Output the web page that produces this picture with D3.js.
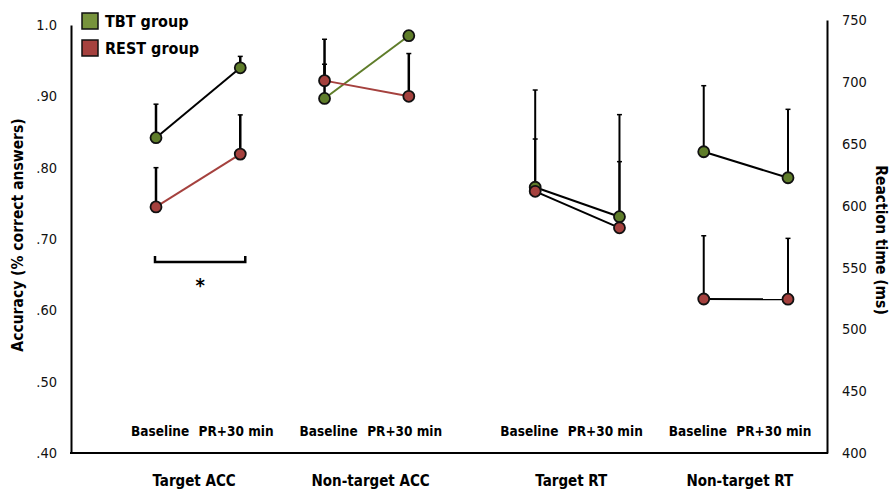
<!DOCTYPE html>
<html>
<head>
<meta charset="utf-8">
<script src="https://cdn.jsdelivr.net/npm/d3@7"></script>
<style>
  body { margin: 0; background: #fff; }
  svg { font-family: "DejaVu Sans Condensed", "DejaVu Sans", sans-serif; }
</style>
</head>
<body>
<div id="chart"></div>
<script>
// chart values
var conditions = ["Target ACC", "Non-target ACC", "Target RT", "Non-target RT"];
var timepoints = ["Baseline", "PR+30 min"];
var groups = ["TBT group", "REST group"];
// one value per condition x timepoint (8 entries)
var tbtMean = [0.842, 0.940, 0.897, 0.985, 614.8, 591.0, 643.5, 622.5];
var tbtErr  = [0.047, 0.016, 0.048, 0.004, 39.0, 44.5, 53.4, 55.3];
var restMean = [0.745, 0.819, 0.922, 0.900, 611.5, 582.0, 524.5, 524.3];
var restErr  = [0.055, 0.055, 0.058, 0.060, 81.9, 91.5, 51.1, 49.2];
var accTicks = [0.4, 0.5, 0.6, 0.7, 0.8, 0.9, 1.0];
var rtTicks = [400, 450, 500, 550, 600, 650, 700, 750];

var w = 894, h = 491;
var green = "#5f7d2a", greenLegend = "#77933c", red = "#a5413e";

var svg = d3.select("#chart").append("svg")
    .attr("width", w)
    .attr("height", h);

var yAcc = d3.scaleLinear().domain([0.4, 1.0]).range([453, 25]);
var yRt = d3.scaleLinear().domain([400, 750]).range([453, 20]);

// slot positions: wider gap between the ACC and RT panels
var slots = [0, 1, 2, 3, 4.5, 5.5, 6.5, 7.5];
var x = d3.scaleLinear().domain([0, 7.5]).range([156, 788]);

//left axis
svg.append("g")
    .attr("transform", "translate(71,0)")
    .call(d3.axisLeft(yAcc).tickValues(accTicks).tickSize(0).tickSizeOuter(0).tickPadding(14)
        .tickFormat(function (d) { return d === 1 ? "1.0" : d3.format(".2f")(d).replace(/^0/, ""); }))
    .call(function (g) {
        g.select(".domain").attr("stroke", "#000").attr("stroke-width", 2);
        g.selectAll("text").attr("font-size", 14.5).attr("fill", "#111")
            .attr("font-family", "DejaVu Sans Condensed");
    });

//right axis
svg.append("g")
    .attr("transform", "translate(827,0)")
    .call(d3.axisRight(yRt).tickValues(rtTicks).tickSize(0).tickSizeOuter(0).tickPadding(15))
    .call(function (g) {
        g.select(".domain").attr("stroke", "#000").attr("stroke-width", 2);
        g.selectAll("text").attr("font-size", 14.5).attr("fill", "#111")
            .attr("font-family", "DejaVu Sans Condensed");
    });

//bottom line
svg.append("line")
    .attr("x1", 70).attr("x2", 828)
    .attr("y1", 453).attr("y2", 453)
    .attr("stroke", "#000").attr("stroke-width", 2);

//axis titles
svg.append("text")
    .attr("transform", "translate(23,235) rotate(-90)")
    .attr("text-anchor", "middle")
    .attr("font-size", 15.5).attr("font-weight", "bold")
    .text("Accuracy (% correct answers)");

svg.append("text")
    .attr("transform", "translate(876,240) rotate(90)")
    .attr("text-anchor", "middle")
    .attr("font-size", 15.5).attr("font-weight", "bold")
    .text("Reaction time (ms)");

//timepoint and condition labels (centred a bit left of the points in the RT panels)
var pts = d3.range(8);
function pairMid(c) {
    return (x(slots[2 * c]) + x(slots[2 * c + 1])) / 2 + (c >= 2 ? -10 : 0);
}
svg.append("g").selectAll("text")
    .data(pts)
    .enter().append("text")
    .attr("x", function (i) { return pairMid(Math.floor(i / 2)) + (i % 2 ? 38 : -38); })
    .attr("y", 436)
    .attr("text-anchor", "middle")
    .attr("font-size", 13.5).attr("font-weight", "bold")
    .text(function (i) { return timepoints[i % 2]; });

svg.append("g").selectAll("text")
    .data(conditions)
    .enter().append("text")
    .attr("x", function (d, c) { return pairMid(c) + (c === 0 ? -4 : 4); })
    .attr("y", 486)
    .attr("text-anchor", "middle")
    .attr("font-size", 15).attr("font-weight", "bold")
    .text(function (d) { return d; });

//series built from arrays
function yFor(i) { return i < 4 ? yAcc : yRt; }
var series = [
    { name: groups[0], mean: tbtMean, err: tbtErr, fill: green,
      lineColor: ["#000", green, "#000", "#000"] },
    { name: groups[1], mean: restMean, err: restErr, fill: red,
      lineColor: [red, red, "#000", "#000"] }
];

//error bars (upper only)
series.forEach(function (s) {
    var eb = svg.append("g").selectAll("g")
        .data(pts)
        .enter().append("g");
    eb.append("line")
        .attr("x1", function (i) { return x(slots[i]); })
        .attr("x2", function (i) { return x(slots[i]); })
        .attr("y1", function (i) { return yFor(i)(s.mean[i]); })
        .attr("y2", function (i) { return yFor(i)(s.mean[i] + s.err[i]); })
        .attr("stroke", "#000")
        .attr("stroke-width", function (i) { return i < 4 ? 2.5 : 2; });
    eb.append("line")
        .attr("x1", function (i) { return x(slots[i]) - 2.5; })
        .attr("x2", function (i) { return x(slots[i]) + 2.5; })
        .attr("y1", function (i) { return yFor(i)(s.mean[i] + s.err[i]); })
        .attr("y2", function (i) { return yFor(i)(s.mean[i] + s.err[i]); })
        .attr("stroke", "#000").attr("stroke-width", 1.5);
});

//connecting lines per condition
series.forEach(function (s) {
    svg.append("g").selectAll("line")
        .data(conditions)
        .enter().append("line")
        .attr("x1", function (d, c) { return x(slots[2 * c]); })
        .attr("x2", function (d, c) { return x(slots[2 * c + 1]); })
        .attr("y1", function (d, c) { return yFor(2 * c)(s.mean[2 * c]); })
        .attr("y2", function (d, c) { return yFor(2 * c + 1)(s.mean[2 * c + 1]); })
        .attr("stroke", function (d, c) { return s.lineColor[c]; })
        .attr("stroke-width", 2);
});

//markers
series.forEach(function (s) {
    svg.append("g").selectAll("circle")
        .data(pts)
        .enter().append("circle")
        .attr("cx", function (i) { return x(slots[i]); })
        .attr("cy", function (i) { return yFor(i)(s.mean[i]); })
        .attr("r", 5.5)
        .attr("fill", s.fill)
        .attr("stroke", "#111")
        .attr("stroke-width", 1.8);
});

//significance bracket under Target ACC
var bx1 = x(slots[0]) - 1, bx2 = x(slots[1]) + 5, by = 262;
svg.append("path")
    .attr("d", "M" + bx1 + "," + (by - 6) + "V" + by + "H" + bx2 + "V" + (by - 6))
    .attr("fill", "none").attr("stroke", "#000").attr("stroke-width", 2.5);
svg.append("text")
    .attr("x", (bx1 + bx2) / 2).attr("y", 292)
    .attr("text-anchor", "middle")
    .attr("font-size", 20).attr("font-weight", "bold")
    .text("*");

//legend
var legend = svg.append("g").selectAll("g")
    .data(series)
    .enter().append("g")
    .attr("transform", function (d, i) { return "translate(82," + (13 + i * 27) + ")"; });
legend.append("rect")
    .attr("width", 16).attr("height", 16)
    .attr("fill", function (d, i) { return i === 0 ? greenLegend : red; })
    .attr("stroke", "#111").attr("stroke-width", 1.5);
legend.append("text")
    .attr("x", 23).attr("y", 14)
    .attr("font-size", 16).attr("font-weight", "bold")
    .text(function (d) { return d.name; });
</script>
</body>
</html>
